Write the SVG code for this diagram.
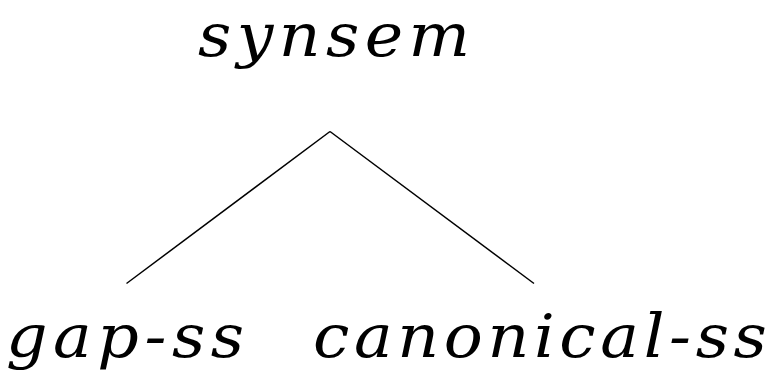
<svg xmlns="http://www.w3.org/2000/svg" width="773" height="384" viewBox="0 0 773 384">
<style>
text{font-family:"DejaVu Serif",serif;font-style:italic;font-size:59px;fill:#000}
.edge{stroke:#000;stroke-width:1.5;fill:none}
</style>
<rect width="773" height="384" fill="#fff"/>
<g id="edges">
<line class="edge" x1="330" y1="131.5" x2="126.5" y2="283.5"/>
<line class="edge" x1="330" y1="131.5" x2="534" y2="283.5"/>
</g>
<g id="synsem"><text transform="scale(1.1,1)" x="180" y="56" textLength="247.3" lengthAdjust="spacing">synsem</text></g>
<g id="gap-ss"><text transform="scale(1.1,1)" x="5.45" y="357" textLength="216.4" lengthAdjust="spacing">gap-ss</text></g>
<g id="canonical-ss"><text transform="scale(1.1,1)" x="284.5" y="357" textLength="412.7" lengthAdjust="spacing">canonical-ss</text></g>
</svg>
